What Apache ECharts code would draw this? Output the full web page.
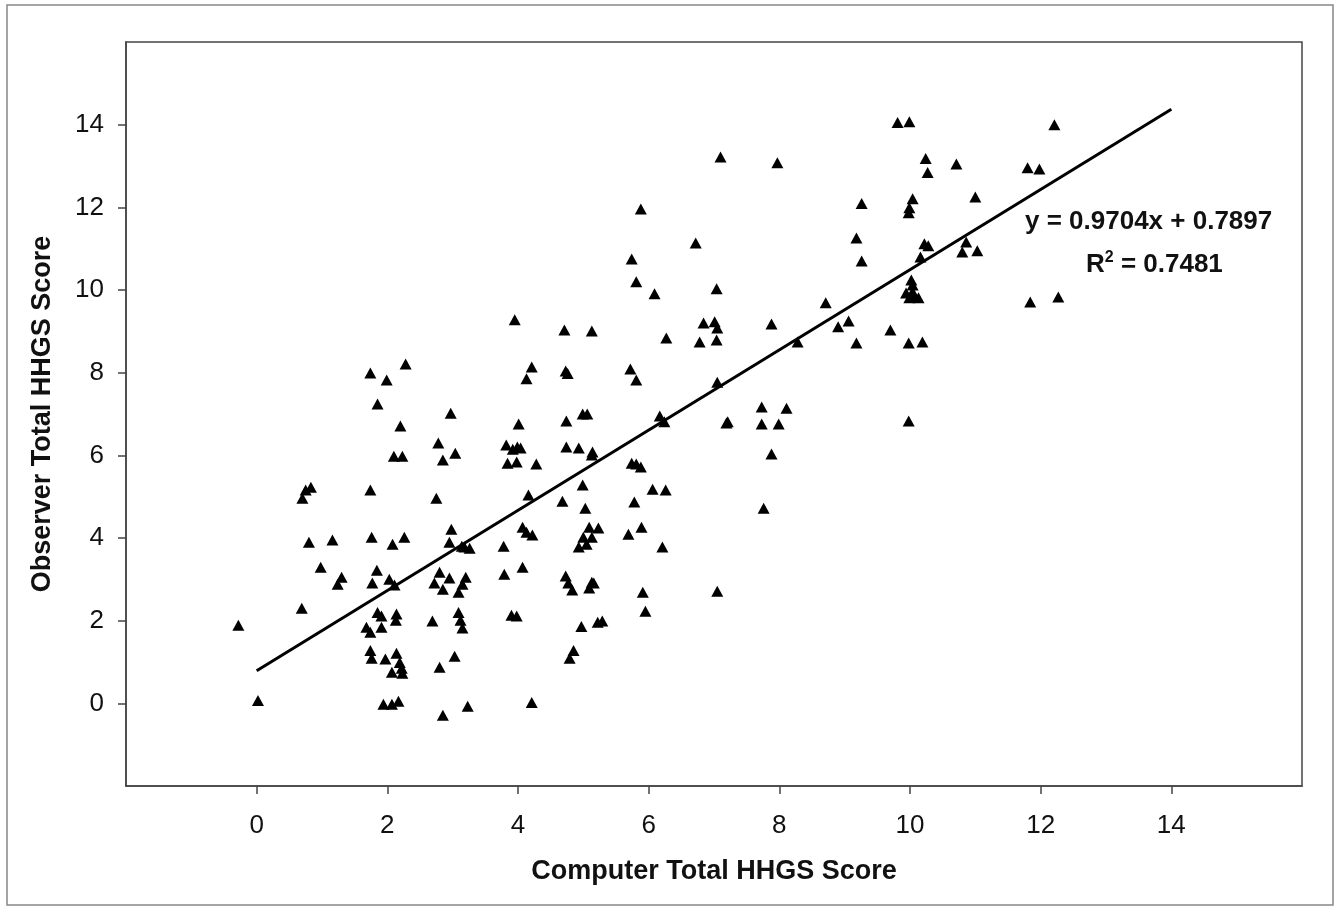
<!DOCTYPE html>
<html>
<head>
<meta charset="utf-8">
<script src="https://cdn.jsdelivr.net/npm/echarts@6/dist/echarts.min.js"></script>
<style>
html,body{margin:0;padding:0;background:#fff;}
#chart{width:1341px;height:910px;}
</style>
</head>
<body>
<div id="chart"></div>
<script>
// Computer total HHGS score (x) for each observation
const computerScores = [
 -0.28,0.02,0.69,0.70,0.75,0.83,0.80,0.98,1.16,1.24,1.30,1.74,1.85,1.99,2.28,2.20,2.10,2.23,1.74,2.26,
 2.08,1.76,1.84,1.77,2.03,2.11,1.85,1.91,2.14,2.13,1.68,1.74,1.91,1.74,1.76,1.97,2.14,2.19,2.22,2.23,
 2.07,1.94,2.07,2.17,
 2.69,2.80,2.95,2.72,2.85,2.80,2.85,2.78,2.85,2.97,3.04,2.75,2.98,2.95,3.20,3.15,3.09,3.09,3.12,3.15,
 3.03,3.23,3.14,3.18,3.26,
 3.95,4.21,4.13,4.01,3.82,3.92,3.99,4.04,3.84,3.98,4.28,4.16,4.07,4.13,4.22,3.78,3.79,4.07,3.90,3.98,4.21,
 4.71,5.13,4.73,4.76,4.74,4.99,5.06,4.74,4.93,5.13,5.14,4.99,4.68,5.03,5.09,5.23,5.00,5.13,4.93,5.05,
 4.73,4.77,4.83,5.13,5.16,5.09,4.97,5.22,5.29,4.85,4.79,
 5.72,5.81,5.74,5.81,5.88,6.06,6.26,5.78,5.89,5.69,6.21,5.91,5.95,6.17,6.24,5.88,5.74,5.81,6.09,6.27,
 6.72,7.10,7.04,6.84,7.01,7.05,6.78,7.04,7.05,7.21,7.19,7.05,
 7.97,7.88,8.28,7.73,8.11,7.73,7.99,7.88,7.76,
 8.71,9.06,8.90,9.18,9.26,9.18,9.26,
 9.70,9.81,9.99,10.24,10.27,10.04,9.99,9.98,10.22,10.28,10.16,10.02,10.04,9.94,9.99,10.07,10.13,10.04,9.98,10.19,9.98,
 10.71,11.00,10.86,10.80,11.03,11.80,11.98,12.21,11.84,12.27
];
// Observer total HHGS score (y) for each observation
const observerScores = [
 1.89,0.07,2.30,4.96,5.16,5.23,3.90,3.29,3.95,2.88,3.05,7.99,7.24,7.82,8.21,6.71,5.98,5.98,5.16,4.02,
 3.85,4.02,3.22,2.91,3.00,2.86,2.20,2.11,2.16,2.01,1.84,1.72,1.84,1.28,1.09,1.07,1.21,0.99,0.85,0.73,
 0.75,-0.02,-0.02,0.05,
 1.99,3.17,3.03,2.91,2.76,0.87,-0.29,6.30,5.89,7.02,6.05,4.96,4.21,3.90,3.05,2.88,2.69,2.20,2.01,1.82,
 1.14,-0.07,3.80,3.78,3.75,
 9.28,8.14,7.85,6.76,6.25,6.15,6.20,6.18,5.81,5.84,5.79,5.04,4.26,4.14,4.07,3.80,3.12,3.29,2.13,2.11,0.02,
 9.03,9.01,8.04,7.98,6.83,7.00,7.00,6.20,6.18,6.01,6.08,5.28,4.89,4.72,4.26,4.24,4.02,4.02,3.78,3.85,
 3.08,2.91,2.74,2.93,2.91,2.79,1.86,1.96,1.99,1.28,1.09,
 8.09,7.82,5.81,5.79,5.72,5.18,5.16,4.87,4.26,4.09,3.78,2.69,2.23,6.95,6.81,11.96,10.75,10.20,9.91,8.84,
 11.14,13.22,10.03,9.20,9.23,9.08,8.74,8.79,7.77,6.81,6.78,2.71,
 13.08,9.18,8.74,7.17,7.14,6.76,6.76,6.03,4.72,
 9.69,9.25,9.11,8.72,12.09,11.26,10.70,
 9.03,14.05,14.07,13.18,12.84,12.21,11.99,11.87,11.12,11.07,10.80,10.24,10.12,9.93,9.81,9.83,9.81,9.96,8.72,8.74,6.83,
 13.05,12.25,11.16,10.92,10.95,12.96,12.93,14.00,9.71,9.83
];
// Regression line y = 0.9704x + 0.7897, drawn over x = 0..14
const trendX = [0, 14];
const trendY = [0.7897, 14.3753];
const tickValues = [0, 2, 4, 6, 8, 10, 12, 14];
const xTitle = 'Computer Total HHGS Score';
const yTitle = 'Observer Total HHGS Score';
const eqLine1 = 'y = 0.9704x + 0.7897';
const eqR2 = '0.7481';

const points = computerScores.map((x, i) => [x, observerScores[i]]);
const trend = trendX.map((x, i) => [x, trendY[i]]);

const FONT = '"Liberation Sans", Arial, sans-serif';
const axisColor = '#444';

const chart = echarts.init(document.getElementById('chart'), null, {renderer: 'canvas'});
const axisCommon = {
  type: 'value', min: -2, max: 16, interval: 2,
  splitLine: {show: false},
  axisLine: {show: true, onZero: false, lineStyle: {color: axisColor, width: 1.5}},
  axisTick: {show: true, inside: false, length: 8, lineStyle: {color: axisColor, width: 1.5}, customValues: tickValues},
  nameLocation: 'middle',
  nameTextStyle: {fontFamily: FONT, fontWeight: 'bold', fontSize: 27, color: '#111'}
};
chart.setOption({
  animation: false,
  backgroundColor: '#fff',
  grid: {left: 126, right: 39, top: 42, bottom: 124, show: true, borderColor: axisColor, borderWidth: 1.5, containLabel: false},
  xAxis: Object.assign({}, axisCommon, {
    name: xTitle, nameGap: 72,
    axisLabel: {fontFamily: FONT, fontSize: 26, color: '#111', margin: 27, customValues: tickValues}
  }),
  yAxis: Object.assign({}, axisCommon, {
    name: yTitle, nameGap: 70,
    axisLabel: {fontFamily: FONT, fontSize: 26, color: '#111', margin: 22, customValues: tickValues}
  }),
  series: [
    {type: 'scatter', data: points, symbol: 'triangle', symbolSize: [12, 11],
     itemStyle: {color: '#000', opacity: 1}, z: 3},
    {type: 'line', data: trend, symbol: 'none', lineStyle: {color: '#000', width: 3}, z: 4}
  ],
  graphic: [
    {type: 'rect', shape: {x: 7, y: 5, width: 1326, height: 900}, style: {fill: 'none', stroke: '#888', lineWidth: 1.5}, silent: true},
    {type: 'text', left: 1025, top: 209,
     style: {text: eqLine1, font: 'bold 26px ' + FONT, fill: '#111'}},
    {type: 'text', left: 1086, top: 250,
     style: {text: '{n|R}{s|2}{n| = ' + eqR2 + '}', fill: '#111',
       rich: {n: {fontFamily: FONT, fontWeight: 'bold', fontSize: 26, verticalAlign: 'bottom'},
              s: {fontFamily: FONT, fontWeight: 'bold', fontSize: 16, verticalAlign: 'top', padding: [0, 0, 12, 0]}}}}
  ]
});
</script>
</body>
</html>
